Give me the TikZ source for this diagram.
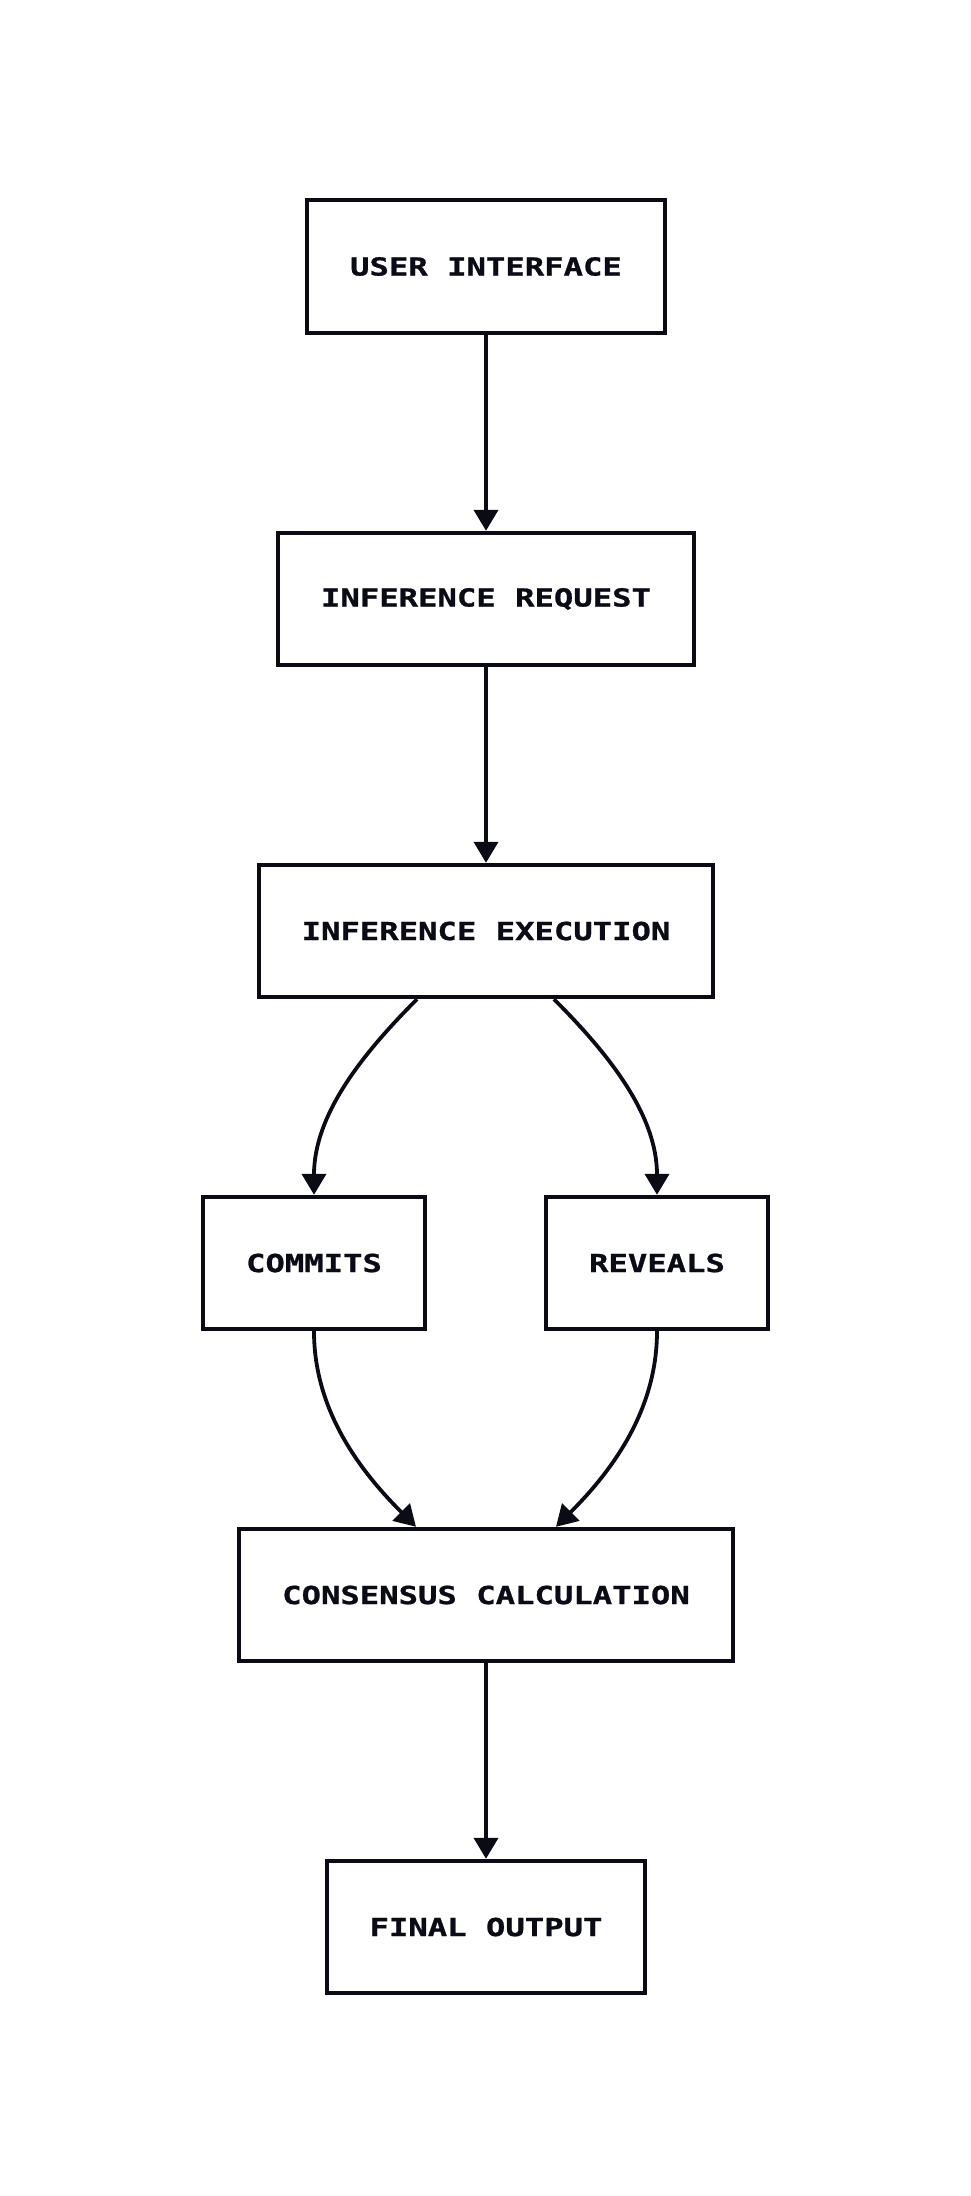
\documentclass[tikz,border=0pt]{standalone}
\usepackage{fontspec}
\usetikzlibrary{arrows.meta}
\newfontfamily\stagefont{DejaVu Sans Mono Bold}[FakeStretch=1.3,FakeBold=1]
\definecolor{ink}{HTML}{0B0B16}
\tikzset{
  stage/.style={draw=ink, line width=2pt, fill=white, text=ink,
    font=\stagefont\fontsize{12.4pt}{15pt}\selectfont,
    inner xsep=21.5pt, inner ysep=0pt, minimum height=66.2pt},
  flow/.style={draw=ink, line width=1.9pt, -{Triangle[length=10.5pt,width=12pt]}}
}
\begin{document}
\begin{tikzpicture}[x=0.5pt,y=-0.5pt]
  \useasboundingbox (0,0) rectangle (970,2196);
  \node[stage] (ui) at (486,266.5) {USER INTERFACE};
  \node[stage] (req) at (486,599) {INFERENCE REQUEST};
  \node[stage] (exec) at (486,931) {INFERENCE EXECUTION};
  \node[stage] (commits) at (314,1263) {COMMITS};
  \node[stage] (reveals) at (657,1263) {REVEALS};
  \node[stage] (consensus) at (486,1595) {CONSENSUS CALCULATION};
  \node[stage] (final) at (486,1927) {FINAL OUTPUT};
  \coordinate (execL) at ([xshift=-34.5pt]exec.south);
  \coordinate (execR) at ([xshift=34pt]exec.south);
  \coordinate (consL) at ([xshift=-35pt]consensus.north);
  \coordinate (consR) at ([xshift=35pt]consensus.north);
  \draw[flow] (ui) -- (req);
  \draw[flow] (req) -- (exec);
  \draw[flow] (execL) .. controls +(-55,55) and +(0,-80) .. (commits.north);
  \draw[flow] (execR) .. controls +(55,55) and +(0,-80) .. (reveals.north);
  \draw[flow] (commits.south) .. controls +(0,80) and +(-55,-55) .. (consL);
  \draw[flow] (reveals.south) .. controls +(0,80) and +(55,-55) .. (consR);
  \draw[flow] (consensus) -- (final);
\end{tikzpicture}
\end{document}
